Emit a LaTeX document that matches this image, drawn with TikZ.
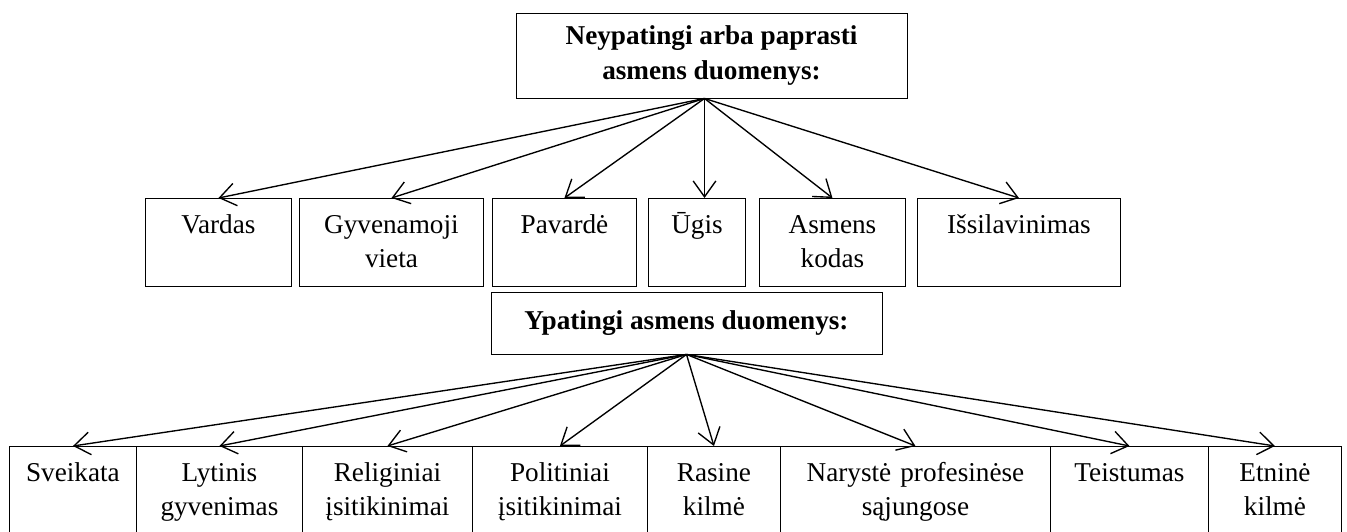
\documentclass[tikz,border=0pt]{standalone}
\usepackage{fontspec}
\setmainfont{Liberation Serif}
\usetikzlibrary{arrows.meta}
\newdimen\px \px=0.441pt

\begin{document}
\begin{tikzpicture}[x=0.441pt, y=-0.441pt,
  antraste/.style={draw, thin, align=center, inner sep=0pt,
    font=\bfseries\fontsize{12}{15.5}\selectfont},
  langas/.style={draw, thin, anchor=north west, align=center, inner sep=0pt,
    font=\fontsize{12}{15}\selectfont, text height=15.4pt, text depth=23.4pt,
    text width=#1\px},
  eilute/.style={langas=#1, text depth=32pt},
  rodykle/.style={semithick, -{Straight Barb[length=7pt,width=10pt]}}]
\useasboundingbox (0,0) rectangle (1347,532);

% Antraštės
\node[antraste, minimum width=391\px, minimum height=85\px] (paprasti) at (711.5,55.5)
  {Neypatingi arba paprasti\\asmens duomenys:};
\node[antraste, minimum width=391\px, minimum height=62\px] (ypatingi) at (686.5,323)
  {Ypatingi asmens duomenys:};
% rodyklės išeina šiek tiek kairiau nuo vidurio
\coordinate (p0) at ([xshift=-7\px]paprasti.south);

% Paprasti duomenys: (x,y) yra kairysis viršutinis kampas
\node[langas=146] (vardas) at (145,198) {Vardas};
\node[langas=184] (gyvenamoji) at (299,198) {Gyvenamoji\\vieta};
\node[langas=144] (pavarde) at (492,198) {Pavardė};
\node[langas=97] (ugis) at (648,198) {Ūgis};
\node[langas=146] (kodas) at (759,198) {Asmens\\kodas};
\node[langas=203] (issilavinimas) at (917,198) {Išsilavinimas};

% Ypatingi duomenys: apatinė eilutė eina už paveikslo krašto
\node[eilute=127] (sveikata) at (9,446) {Sveikata};
\node[eilute=166] (lytinis) at (136,446) {Lytinis\\gyvenimas};
\node[eilute=170] (religiniai) at (302,446) {Religiniai\\įsitikinimai};
\node[eilute=175] (politiniai) at (472,446) {Politiniai\\įsitikinimai};
\node[eilute=133] (rasine) at (647,446) {Rasine\\kilmė};
\node[eilute=270] (naryste) at (780,446) {Narystė profesinėse\\sąjungose};
\node[eilute=158] (teistumas) at (1050,446) {Teistumas};
\node[eilute=133] (etnine) at (1208,446) {Etninė\\kilmė};

% Rodyklės nuo pirmosios antraštės
\draw[rodykle] (p0) -- (vardas.north);
\draw[rodykle] (p0) -- (gyvenamoji.north);
\draw[rodykle] (p0) -- (pavarde.north);
% Ūgis: rodyklė eina tiesiai žemyn
\draw[rodykle] (p0) -- (p0 |- ugis.north);
\draw[rodykle] (p0) -- (kodas.north);
\draw[rodykle] (p0) -- (issilavinimas.north);

% Rodyklės nuo antrosios antraštės
\draw[rodykle] (ypatingi.south) -- (sveikata.north);
\draw[rodykle] (ypatingi.south) -- (lytinis.north);
\draw[rodykle] (ypatingi.south) -- (religiniai.north);
\draw[rodykle] (ypatingi.south) -- (politiniai.north);
\draw[rodykle] (ypatingi.south) -- (rasine.north);
\draw[rodykle] (ypatingi.south) -- (naryste.north);
\draw[rodykle] (ypatingi.south) -- (teistumas.north);
\draw[rodykle] (ypatingi.south) -- (etnine.north);
\end{tikzpicture}
\end{document}
